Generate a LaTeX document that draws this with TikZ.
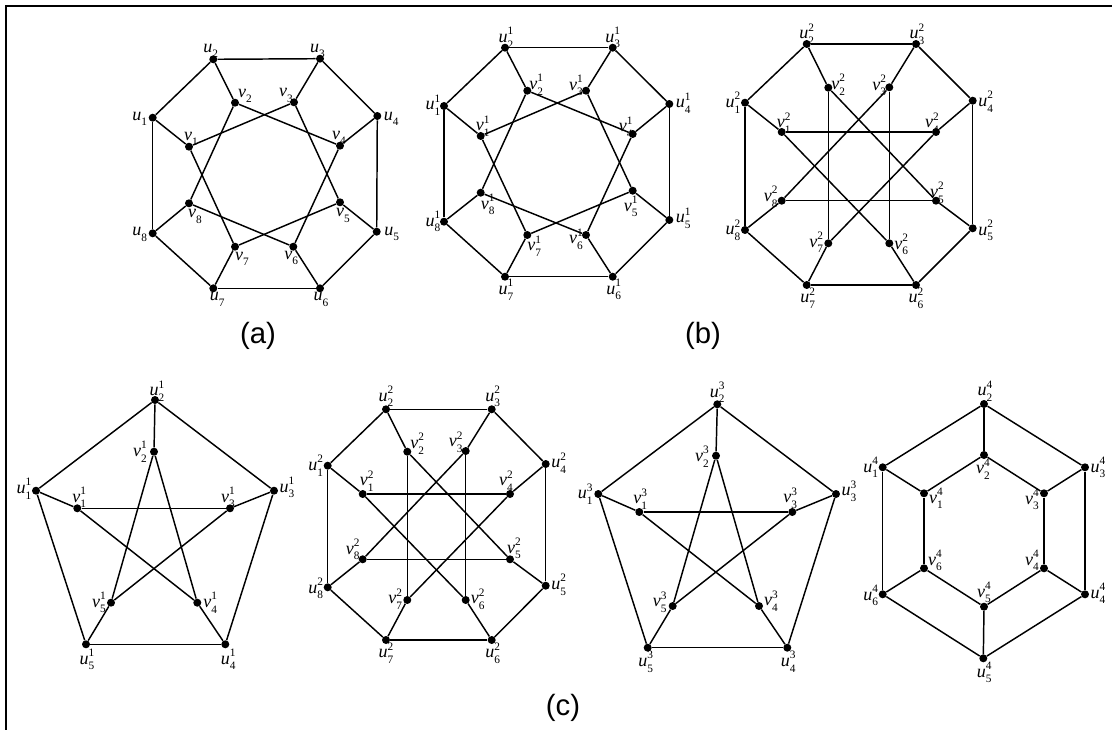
\documentclass[tikz,border=0pt]{standalone}
\usepackage{fontspec}
\setmainfont{Liberation Serif}
\newfontfamily\capfont{Liberation Sans}
\usetikzlibrary{calc}

% vertex label: italic letter with stacked subscript and superscript
\newcommand\lb[3]{\textit{#1}\rlap{\raisebox{0.95ex}{\fontsize{8.5}{9}\selectfont #3}}\raisebox{-0.65ex}{\fontsize{8.5}{9}\selectfont #2}}
% vertex: name, x, y, label dx, label dy, letter, subscript, superscript
\newcommand\vtx[8]{%
  \node[dot] (#1) at (#2,#3) {};
  \node[lbl] (#1-l) at ($(#1)+(#4,#5)$) {\lb{#6}{#7}{#8}};}

\tikzset{
  dot/.style={circle, fill=black, inner sep=0pt, minimum size=6pt},
  lbl/.style={inner sep=0pt, font=\fontsize{13.5}{13.5}\selectfont},
  edge/.style={line width=1.1pt, black},
  frame/.style={line width=1.8pt, black},
  caption/.style={font=\capfont\fontsize{22}{22}\selectfont, inner sep=0pt}
}

\begin{document}
\begin{tikzpicture}[x=0.75pt, y=-0.75pt]
\useasboundingbox (0,0) rectangle (1112,730);

% page frame (top and left rules)
\coordinate (fTL) at (6,6);
\coordinate (fTR) at (1112,6);
\coordinate (fBL) at (6,730);
\draw[frame] (fTR) -- (fTL) -- (fBL);

% ---------- graph (a): GP(8,2) ----------
\vtx{A-u1}{152.7}{117.7}{-13}{1}{u}{1}{}
\vtx{A-u2}{213.3}{59.3}{-2.5}{-8.5}{u}{2}{}
\vtx{A-u3}{320}{58.7}{-2.5}{-8}{u}{3}{}
\vtx{A-u4}{377.3}{116}{14}{3}{u}{4}{}
\vtx{A-u5}{376.7}{231.7}{15}{2}{u}{5}{}
\vtx{A-u6}{320}{288.3}{1}{11}{u}{6}{}
\vtx{A-u7}{213.3}{288.3}{4}{11}{u}{7}{}
\vtx{A-u8}{152.7}{233.3}{-13}{1}{u}{8}{}
\vtx{A-v1}{189}{146.7}{2}{-8}{v}{1}{}
\vtx{A-v2}{235}{102.7}{10}{-7}{v}{2}{}
\vtx{A-v3}{294}{102.3}{-8}{-7}{v}{3}{}
\vtx{A-v4}{340}{145.7}{-1}{-8}{v}{4}{}
\vtx{A-v5}{340}{202.3}{3}{13}{v}{5}{}
\vtx{A-v6}{293.3}{246.7}{-2}{11}{v}{6}{}
\vtx{A-v7}{235}{246.7}{7}{12}{v}{7}{}
\vtx{A-v8}{189}{203.3}{6}{13}{v}{8}{}

% ---------- graph (b), left: GP(8,2) ----------
\vtx{B-u1}{444}{106}{-11}{-1}{u}{1}{1}
\vtx{B-u2}{505}{47.7}{1}{-10}{u}{2}{1}
\vtx{B-u3}{612.7}{47.7}{0}{-10}{u}{3}{1}
\vtx{B-u4}{669.3}{104}{14}{-1}{u}{4}{1}
\vtx{B-u5}{669.3}{220}{14}{-2}{u}{5}{1}
\vtx{B-u6}{612.7}{276.7}{1}{13}{u}{6}{1}
\vtx{B-u7}{505}{276.7}{1}{13}{u}{7}{1}
\vtx{B-u8}{444}{221.7}{-11}{0}{u}{8}{1}
\vtx{B-v1}{480.7}{136}{2}{-10}{v}{1}{1}
\vtx{B-v2}{527.3}{90.7}{9}{-6}{v}{2}{1}
\vtx{B-v3}{586}{90.7}{-10}{-5}{v}{3}{1}
\vtx{B-v4}{632.7}{134}{-7}{-7}{v}{4}{1}
\vtx{B-v5}{632.7}{190.7}{-2}{16}{v}{5}{1}
\vtx{B-v6}{586}{235}{-10}{4}{v}{6}{1}
\vtx{B-v7}{527.3}{235}{7}{11}{v}{7}{1}
\vtx{B-v8}{480.7}{192.7}{7}{12}{v}{8}{1}

% ---------- graph (b), right: GP(8,3) ----------
\vtx{C-u1}{745}{102.7}{-12}{0}{u}{1}{2}
\vtx{C-u2}{806.7}{44}{0}{-10}{u}{2}{2}
\vtx{C-u3}{916}{44}{1}{-10}{u}{3}{2}
\vtx{C-u4}{972.7}{100.7}{13}{1}{u}{4}{2}
\vtx{C-u5}{972.7}{228.3}{13}{2}{u}{5}{2}
\vtx{C-u6}{916}{285}{0}{13}{u}{6}{2}
\vtx{C-u7}{806.7}{285}{1}{13}{u}{7}{2}
\vtx{C-u8}{745}{230}{-12}{0}{u}{8}{2}
\vtx{C-v1}{781.7}{132}{2}{-9}{v}{1}{2}
\vtx{C-v2}{828.3}{87.7}{10}{-3}{v}{2}{2}
\vtx{C-v3}{889.3}{87.3}{-10}{-2}{v}{3}{2}
\vtx{C-v4}{936}{132}{-4}{-9}{v}{4}{2}
\vtx{C-v5}{936}{200.7}{1}{-8}{v}{5}{2}
\vtx{C-v6}{889.3}{243.3}{12}{1}{v}{6}{2}
\vtx{C-v7}{828.3}{243.3}{-12}{-1}{v}{7}{2}
\vtx{C-v8}{781.7}{200.7}{-11}{-4}{v}{8}{2}

% ---------- graph (c), 1: Petersen ----------
\vtx{D-u1}{36}{490.7}{-12}{-2}{u}{1}{1}
\vtx{D-u2}{155}{400}{2}{-9}{u}{2}{1}
\vtx{D-u3}{274}{490.7}{13}{-3}{u}{3}{1}
\vtx{D-u4}{225.3}{644.3}{3}{15}{u}{4}{1}
\vtx{D-u5}{86}{644.3}{1}{15}{u}{5}{1}
\vtx{D-v1}{77.3}{508.3}{2}{-11}{v}{1}{1}
\vtx{D-v2}{154}{451.7}{-14}{0}{v}{2}{1}
\vtx{D-v3}{230}{508.3}{-2}{-11}{v}{3}{1}
\vtx{D-v4}{197.3}{602.7}{13}{0}{v}{4}{1}
\vtx{D-v5}{111}{602.7}{-12}{0}{v}{5}{1}

% ---------- graph (c), 2: GP(8,3) ----------
\vtx{E-u1}{327.7}{465.7}{-12}{0}{u}{1}{2}
\vtx{E-u2}{386}{409.3}{0}{-13}{u}{2}{2}
\vtx{E-u3}{491.7}{409.3}{1}{-13}{u}{3}{2}
\vtx{E-u4}{545.7}{464}{13}{-1}{u}{4}{2}
\vtx{E-u5}{545.7}{585.7}{13}{-1}{u}{5}{2}
\vtx{E-u6}{491.7}{640}{1}{13}{u}{6}{2}
\vtx{E-u7}{386}{640}{0}{13}{u}{7}{2}
\vtx{E-u8}{327.7}{587.3}{-12}{1}{u}{8}{2}
\vtx{E-v1}{362.7}{494}{4}{-13}{v}{1}{2}
\vtx{E-v2}{407.3}{451.7}{10}{-8}{v}{2}{2}
\vtx{E-v3}{465.7}{451}{-10}{-9}{v}{3}{2}
\vtx{E-v4}{510}{494}{-4}{-13}{v}{4}{2}
\vtx{E-v5}{510}{559.3}{4}{-11}{v}{5}{2}
\vtx{E-v6}{465.7}{600}{12}{-1}{v}{6}{2}
\vtx{E-v7}{407.3}{600}{-12}{-1}{v}{7}{2}
\vtx{E-v8}{362.7}{559.3}{-10}{-10}{v}{8}{2}

% ---------- graph (c), 3: Petersen ----------
\vtx{F-u1}{598.3}{494}{-13}{0}{u}{1}{3}
\vtx{F-u2}{717.3}{404.3}{0}{-12}{u}{2}{3}
\vtx{F-u3}{836}{494}{13}{-3}{u}{3}{3}
\vtx{F-u4}{787.3}{647.7}{1}{14}{u}{4}{3}
\vtx{F-u5}{647.7}{647.7}{-2}{14}{u}{5}{3}
\vtx{F-v1}{639.3}{512}{1}{-13}{v}{1}{3}
\vtx{F-v2}{716}{455.7}{-14}{1}{v}{2}{3}
\vtx{F-v3}{792.3}{512}{-2}{-14}{v}{3}{3}
\vtx{F-v4}{759}{606}{12}{-5}{v}{4}{3}
\vtx{F-v5}{672.7}{606}{-13}{-4}{v}{5}{3}

% ---------- graph (c), 4: hexagonal prism ----------
\vtx{G-u1}{882.7}{467.3}{-12}{0}{u}{1}{4}
\vtx{G-u2}{984}{404}{1}{-13}{u}{2}{4}
\vtx{G-u3}{1085}{467.3}{13}{0}{u}{3}{4}
\vtx{G-u4}{1085}{594.3}{13}{-1}{u}{4}{4}
\vtx{G-u5}{983.3}{658.3}{1}{14}{u}{5}{4}
\vtx{G-u6}{882.7}{594.3}{-12}{1}{u}{6}{4}
\vtx{G-v1}{924}{493.3}{12}{5}{v}{1}{4}
\vtx{G-v2}{984}{455}{-1}{14}{v}{2}{4}
\vtx{G-v3}{1044}{493.3}{-12}{6}{v}{3}{4}
\vtx{G-v4}{1044}{568.3}{-12}{-8}{v}{4}{4}
\vtx{G-v5}{984}{606.7}{0}{-14}{v}{5}{4}
\vtx{G-v6}{924}{568.3}{11}{-8}{v}{6}{4}

% ---------- edges ----------
% octagon graphs: outer cycle and spokes
\foreach \g in {A,B,C,E}{
  \foreach \i/\j in {1/2,2/3,3/4,4/5,5/6,6/7,7/8,8/1}
    \draw[edge] (\g-u\i) -- (\g-u\j);
  \foreach \i in {1,...,8}
    \draw[edge] (\g-u\i) -- (\g-v\i);
}
% inner edges, step 2
\foreach \g in {A,B}{
  \foreach \i/\j in {1/3,2/4,3/5,4/6,5/7,6/8,7/1,8/2}
    \draw[edge] (\g-v\i) -- (\g-v\j);
}
% inner edges, step 3
\foreach \g in {C,E}{
  \foreach \i/\j in {1/4,2/5,3/6,4/7,5/8,6/1,7/2,8/3}
    \draw[edge] (\g-v\i) -- (\g-v\j);
}
% Petersen graphs
\foreach \g in {D,F}{
  \foreach \i/\j in {1/2,2/3,3/4,4/5,5/1}
    \draw[edge] (\g-u\i) -- (\g-u\j);
  \foreach \i in {1,...,5}
    \draw[edge] (\g-u\i) -- (\g-v\i);
  \foreach \i/\j in {1/3,3/5,5/2,2/4,4/1}
    \draw[edge] (\g-v\i) -- (\g-v\j);
}
% hexagonal prism
\foreach \i/\j in {1/2,2/3,3/4,4/5,5/6,6/1}{
  \draw[edge] (G-u\i) -- (G-u\j);
  \draw[edge] (G-v\i) -- (G-v\j);
}
\foreach \i in {1,...,6}
  \draw[edge] (G-u\i) -- (G-v\i);

% ---------- captions ----------
\node[caption] (capA) at (258,336) {(a)};
\node[caption] (capB) at (703,336) {(b)};
\node[caption] (capC) at (563,708) {(c)};
\end{tikzpicture}
\end{document}
